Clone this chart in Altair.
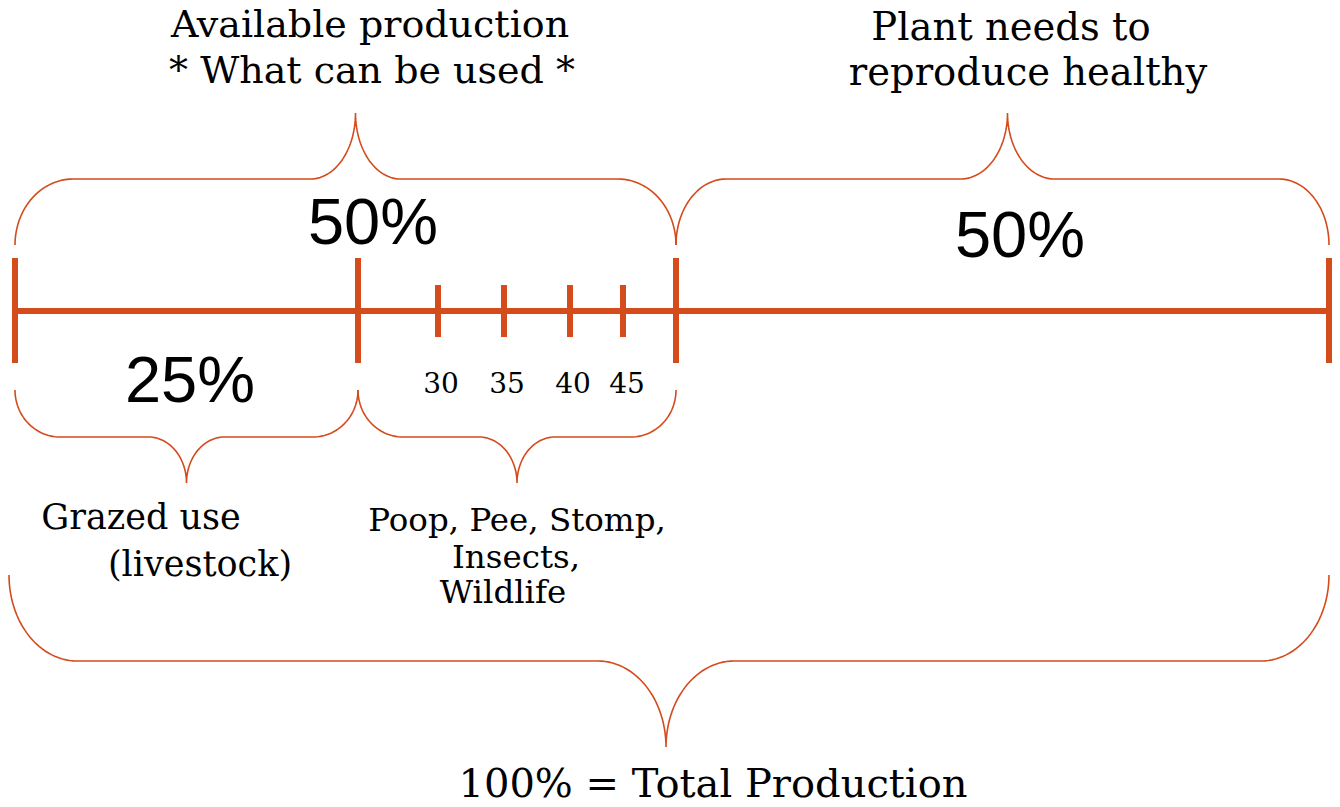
import altair as alt
import numpy as np
import pandas as pd

# ---------------- data ----------------
major_pct = [0, 25, 50, 100]
minor_pct = [30, 35, 40, 45]
minor_labels = ["30", "35", "40", "45"]

brace_names = ["available", "plant", "grazed", "waste", "total"]
brace_start = [0, 50, 0, 25, 0]
brace_end = [50, 100, 25, 50, 100]

serif_texts = ["Available production", "* What can be used *",
               "Plant needs to", "reproduce healthy",
               "Grazed use", "(livestock)",
               "Poop, Pee, Stomp,", "Insects,", "Wildlife",
               "100% = Total Production"]
sans_texts = ["50%", "50%", "25%"]

# ---------------- layout (pixel positions in the 1340x807 page) ----------------
OFF = 8
CHART_W, CHART_H = 1324, 791
SCALE_DOMAIN = [0, 25, 30, 35, 40, 45, 50, 100]
SCALE_PX = [15, 358, 438, 504, 570, 623, 676, 1329]
SCALE_RANGE = [p - OFF for p in SCALE_PX]

LINE_Y = 311
MAJOR_Y = (258, 363)
MINOR_Y = (285, 337)
COLOR = "#D44B1C"

brace_layout = {
    "available": dict(y_end=245, y_flat=179, y_tip=113, rc=58, rt=45, shift=10, pad=(0, 0)),
    "plant": dict(y_end=245, y_flat=179, y_tip=113, rc=50, rt=47, shift=5, pad=(0, 0)),
    "grazed": dict(y_end=390, y_flat=437, y_tip=483, rc=45, rt=38, shift=0, pad=(0, 0)),
    "waste": dict(y_end=390, y_flat=437, y_tip=483, rc=45, rt=38, shift=0, pad=(0, 0)),
    "total": dict(y_end=575, y_flat=661, y_tip=747, rc=68, rt=68, shift=-3, pad=(-6, 0)),
}

serif_pos = [(370, 37, 38), (372, 83, 38), (1011, 40, 38.5), (1028, 85, 38.5),
             (141, 529, 35), (200, 576, 35),
             (517, 531, 32.5), (516, 568, 32.5), (503, 603, 32.5),
             (713, 797, 40)]
minor_label_pos = [(441, 393, 28), (507, 393, 28), (573, 393, 28), (627, 393, 28)]
sans_pos = [(373, 244, 65), (1020, 257, 65), (190, 402, 65)]


def px_to_pct(px):
    px = np.asarray(px, dtype=float)
    d = np.array(SCALE_DOMAIN, dtype=float)
    r = np.array(SCALE_PX, dtype=float)
    out = np.interp(px, r, d)
    lo = px < r[0]
    hi = px > r[-1]
    out[lo] = d[0] + (px[lo] - r[0]) * (d[1] - d[0]) / (r[1] - r[0])
    out[hi] = d[-1] + (px[hi] - r[-1]) * (d[-1] - d[-2]) / (r[-1] - r[-2])
    return out


def pct_to_px(p):
    return float(np.interp(p, SCALE_DOMAIN, SCALE_PX))


# ---------------- build tables ----------------
rows = []
for name, a, b in zip(brace_names, brace_start, brace_end):
    L = brace_layout[name]
    x0 = pct_to_px(a) + L["pad"][0]
    x1 = pct_to_px(b) - L["pad"][1]
    xt = (x0 + x1) / 2 + L["shift"]
    ye, yf, yt, rc, rt = L["y_end"], L["y_flat"], L["y_tip"], L["rc"], L["rt"]
    n = 30
    t = np.linspace(0, np.pi / 2, n)
    xs, ys = [], []
    xs += list(x0 + rc * (1 - np.cos(t))); ys += list(ye + (yf - ye) * np.sin(t))
    xs += list(xt - rt + rt * np.sin(t)); ys += list(yf + (yt - yf) * (1 - np.cos(t)))
    tr = t[::-1]
    xs += list(xt + rt - rt * np.sin(tr)); ys += list(yf + (yt - yf) * (1 - np.cos(tr)))
    xs += list(x1 - rc * (1 - np.cos(tr))); ys += list(ye + (yf - ye) * np.sin(tr))
    pcts = px_to_pct(xs)
    for i, (xp, yp) in enumerate(zip(pcts, ys)):
        rows.append(dict(brace=name, i=i, x=xp, y=yp))
brace_df = pd.DataFrame(rows)

line_df = pd.DataFrame(dict(x=[major_pct[0]], x2=[major_pct[-1]], y=[LINE_Y]))
major_df = pd.DataFrame(dict(x=major_pct, y=[MAJOR_Y[0]] * 4, y2=[MAJOR_Y[1]] * 4))
minor_df = pd.DataFrame(dict(x=minor_pct, y=[MINOR_Y[0]] * 4, y2=[MINOR_Y[1]] * 4))

serif_df = pd.DataFrame(dict(
    text=serif_texts + minor_labels,
    x=px_to_pct([p[0] for p in serif_pos + minor_label_pos]),
    y=[p[1] for p in serif_pos + minor_label_pos],
    size=[p[2] for p in serif_pos + minor_label_pos],
))
sans_df = pd.DataFrame(dict(
    text=sans_texts,
    x=px_to_pct([p[0] for p in sans_pos]),
    y=[p[1] for p in sans_pos],
    size=[p[2] for p in sans_pos],
))

xs = alt.Scale(domain=SCALE_DOMAIN, range=SCALE_RANGE, zero=False, nice=False)
ys = alt.Scale(domain=[OFF, OFF + CHART_H], range=[0, CHART_H], zero=False, nice=False)
X = lambda f="x": alt.X(f"{f}:Q", scale=xs, axis=None)
Y = lambda f="y": alt.Y(f"{f}:Q", scale=ys, axis=None)

main_line = alt.Chart(line_df).mark_rule(color=COLOR, strokeWidth=6).encode(
    x=X(), x2="x2:Q", y=Y())
major = alt.Chart(major_df).mark_rule(color=COLOR, strokeWidth=6).encode(
    x=X(), y=Y(), y2="y2:Q")
minor = alt.Chart(minor_df).mark_rule(color=COLOR, strokeWidth=6).encode(
    x=X(), y=Y(), y2="y2:Q")
braces = alt.Chart(brace_df).mark_line(color=COLOR, strokeWidth=1.6).encode(
    x=X(), y=Y(), detail="brace:N", order="i:Q")
serif = alt.Chart(serif_df).mark_text(
    font="Rockwell, DejaVu Serif", baseline="alphabetic", align="center", color="black"
).encode(x=X(), y=Y(), text="text:N", size=alt.Size("size:Q", scale=None))
sans = alt.Chart(sans_df).mark_text(
    font="Helvetica, Liberation Sans", baseline="alphabetic", align="center", color="black"
).encode(x=X(), y=Y(), text="text:N", size=alt.Size("size:Q", scale=None))

chart = alt.layer(braces, main_line, major, minor, serif, sans).properties(
    width=CHART_W, height=CHART_H, padding=0, background="white",
    autosize=alt.AutoSizeParams(type="none"),
).configure_view(stroke=None)

chart.save("out.html", embed_options={"renderer": "svg", "actions": False})
